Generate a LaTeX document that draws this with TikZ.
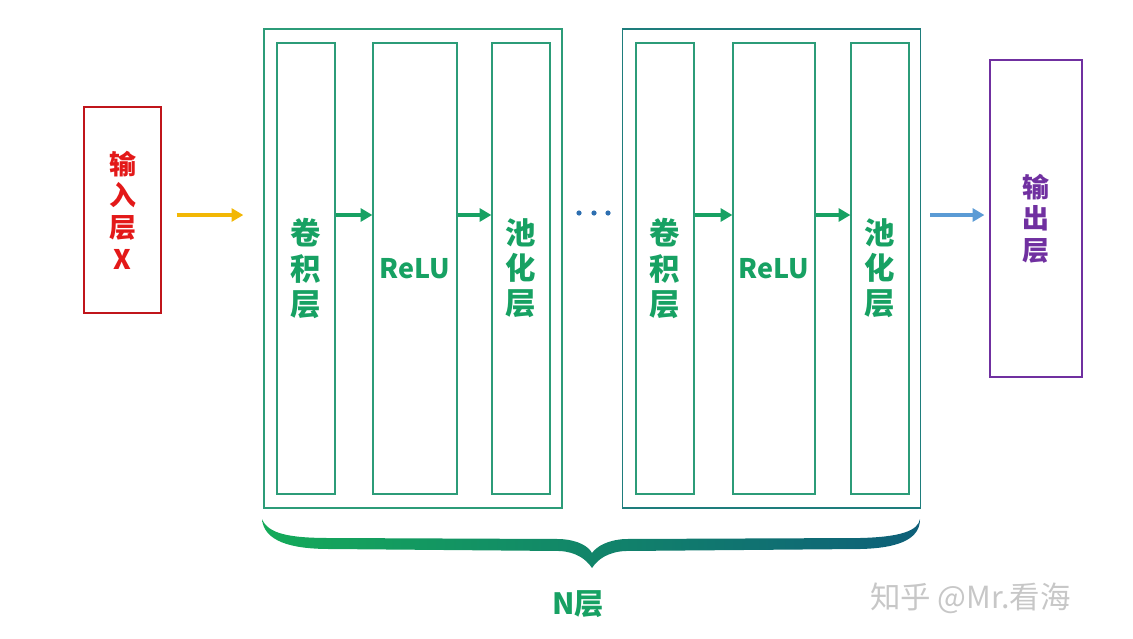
\documentclass[tikz,border=0pt]{standalone}
\usepackage{fontspec}
\usepackage{tikz}
\usetikzlibrary{arrows.meta}
\usepackage{xcolor}
\newfontfamily\cjk{Noto Sans CJK SC}
\newcommand{\pxu}{0.03cm}
\definecolor{inred}{HTML}{C0151B}
\definecolor{intxt}{HTML}{E31919}
\definecolor{ingold}{HTML}{F2B705}
\definecolor{lgreen}{HTML}{17A163}
\definecolor{lgrp}{HTML}{2C9C78}
\definecolor{lgrpb}{HTML}{1E7D7C}
\definecolor{lteal}{HTML}{0E5F79}
\definecolor{dotblue}{HTML}{2E6FB0}
\definecolor{outblue}{HTML}{5B9BD5}
\definecolor{outpurp}{HTML}{7030A0}

\begin{document}
\begin{tikzpicture}[x=0.03cm, y=-0.03cm,
    box/.style={draw, line width=1pt, inner sep=0pt, align=center, font=\cjk\bfseries},
    layer/.style={box, draw=lgrp, text=lgreen, minimum height=451*\pxu, font=\cjk\bfseries\fontsize{26}{30}\selectfont},
    grp/.style={box, line width=1.1pt, minimum width=298*\pxu, minimum height=479*\pxu},
    flow/.style={line width=3pt, -{Triangle[length=10pt, width=11pt]}}]
    \useasboundingbox (0,0) rectangle (1133,638);
    \coordinate (lvl) at (0,215);
    % entrada
    \node[box, draw=inred, text=intxt, minimum width=77*\pxu, minimum height=206*\pxu,
          font=\cjk\bfseries\fontsize{23}{27}\selectfont] (in) at (122.5,210) {输\\入\\层\\X};
    % blocos
    \node[grp, draw=lgrp] (grp1) at (413,268.5) {};
    \node[layer, minimum width=58*\pxu] (conv1) at (306,268.5) {卷\\积\\层};
    \node[layer, minimum width=84*\pxu, font=\cjk\bfseries\fontsize{23}{26}\selectfont] (relu1) at (415,268.5) {ReLU};
    \node[layer, minimum width=58*\pxu] (pool1) at (521,268.5) {池\\化\\层};
    \node[grp, draw=lgrpb] (grp2) at (771.5,268.5) {};
    \node[layer, minimum width=58*\pxu] (conv2) at (665,268.5) {卷\\积\\层};
    \node[layer, minimum width=82*\pxu, font=\cjk\bfseries\fontsize{23}{26}\selectfont] (relu2) at (774,268.5) {ReLU};
    \node[layer, minimum width=58*\pxu] (pool2) at (880,268.5) {池\\化\\层};
    % saida
    \node[box, draw=outpurp, text=outpurp, minimum width=92*\pxu, minimum height=317*\pxu,
          font=\cjk\bfseries\fontsize{23}{27}\selectfont] (out) at (1036,218.5) {输\\出\\层};
    % setas
    \draw[flow, ingold] ([xshift=15*\pxu]in.east |- lvl) -- ([xshift=-20*\pxu]grp1.west |- lvl);
    \draw[flow, lgreen] (conv1.east |- lvl) -- (relu1.west |- lvl);
    \draw[flow, lgreen] (relu1.east |- lvl) -- (pool1.west |- lvl);
    \draw[flow, lgreen] (conv2.east |- lvl) -- (relu2.west |- lvl);
    \draw[flow, lgreen] (relu2.east |- lvl) -- (pool2.west |- lvl);
    \draw[flow, outblue] ([xshift=9*\pxu]grp2.east |- lvl) -- ([xshift=-5*\pxu]out.west |- lvl);
    \fill[dotblue] (579,213) circle (2.6) (594,213) circle (2.6) (608,213) circle (2.6);
    % chave
    \shade[left color=lgreen!90!green, middle color=lgrpb, right color=lteal]
      (262,519) .. controls (268,534) and (290,538) .. (330,538) -- (560,539)
      .. controls (578,540) and (588,546) .. (592,553)
      .. controls (597,546) and (608,540) .. (625,539) -- (860,538)
      .. controls (900,537) and (918,531) .. (920,519)
      .. controls (920,536) and (905,548) .. (860,549) -- (625,551)
      .. controls (608,552) and (598,559) .. (592,568)
      .. controls (586,559) and (576,552) .. (560,551) -- (330,549)
      .. controls (290,549) and (264,541) .. (262,519) -- cycle;
    \node[text=lgreen, font=\cjk\bfseries\fontsize{25}{28}\selectfont] (nlay) at (578,604) {N层};
    \node[text=black!22, anchor=west, font=\cjk\fontsize{26}{30}\selectfont] (mark) at (866,598) {知乎 @Mr.看海};
\end{tikzpicture}
\end{document}
